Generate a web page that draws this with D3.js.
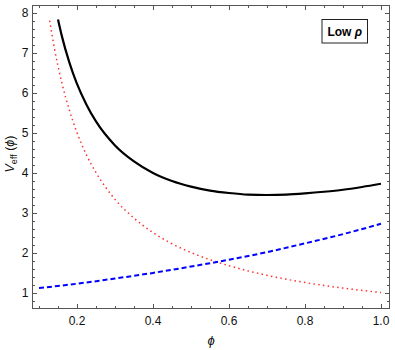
<!DOCTYPE html>
<html><head><meta charset="utf-8">
<script src="https://cdn.jsdelivr.net/npm/d3@7"></script>
<style>body{margin:0;background:#fff}svg{display:block}text{font-family:"Liberation Sans",Arial,sans-serif}</style>
</head><body><svg id="c" width="395" height="350"></svg>
<script>
// data
const phiRed = [0.128,0.14,0.16,0.18,0.2,0.225,0.25,0.3,0.35,0.4,0.45,0.5,0.55,0.6,0.7,0.8,0.9,1.0];
const vRed   = [7.80,7.14,6.25,5.56,5.00,4.44,4.00,3.33,2.86,2.50,2.22,2.00,1.82,1.67,1.43,1.25,1.11,1.00];
const phiBlue = [0.1,0.2,0.3,0.4,0.5,0.6,0.7,0.8,0.9,1.0];
const vBlue   = [1.11,1.22,1.35,1.49,1.65,1.82,2.01,2.23,2.46,2.72];
const phiBlack = [0.15,0.16,0.18,0.2,0.225,0.25,0.3,0.35,0.4,0.45,0.5,0.55,0.6,0.65,0.7,0.75,0.8,0.85,0.9,0.95,1.0];
const vBlack   = [7.83,7.42,6.75,6.22,5.70,5.28,4.68,4.28,3.99,3.79,3.65,3.55,3.49,3.45,3.44,3.45,3.48,3.52,3.57,3.64,3.72];
const xTicks = [0.2,0.4,0.6,0.8,1.0];
const yTicks = [1,2,3,4,5,6,7,8];
const legendLabel = "Low";

const svg = d3.select("#c");
const L=32.5,R=389.5,T=5.5,B=308.5;
const x = d3.scaleLinear().domain([0.0829,1.0224]).range([L,R]);
const y = d3.scaleLinear().domain([0.6,8.18]).range([B,T]);
const frameCol="#555";

// ticks
const g = svg.append("g");
const xMinor = d3.range(0.1,1.0001,0.05).map(v=>+v.toFixed(2));
const yMinor = d3.range(0.8,8.1,0.2).map(v=>+v.toFixed(1));
function tick(x1,y1,x2,y2){g.append("line").attr("x1",x1).attr("y1",y1).attr("x2",x2).attr("y2",y2).attr("stroke",frameCol).attr("stroke-width",1);}
xMinor.forEach(v=>{const major=xTicks.some(t=>Math.abs(t-v)<1e-6);const len=major?4.5:2.5;const px=Math.round(x(v))+0.5;
  tick(px,B,px,B-len);tick(px,T,px,T+len);});
yMinor.forEach(v=>{const major=yTicks.some(t=>Math.abs(t-v)<1e-6);const len=major?4.5:2.5;const py=Math.round(y(v))+0.5;
  tick(L,py,L+len,py);tick(R,py,R-len,py);});

// frame
svg.append("rect").attr("x",L).attr("y",T).attr("width",R-L).attr("height",B-T).attr("fill","none").attr("stroke",frameCol).attr("stroke-width",1);

// tick labels
xTicks.forEach(v=>svg.append("text").attr("x",x(v)).attr("y",B+16).attr("text-anchor","middle").attr("font-size",12).attr("fill","#111").text(d3.format(".1f")(v)));
yTicks.forEach(v=>svg.append("text").attr("x",L-4).attr("y",y(v)+4.5).attr("text-anchor","end").attr("font-size",12).attr("fill","#111").text(v));

// axis labels
svg.append("text").attr("x",(L+R)/2).attr("y",B+36).attr("text-anchor","middle").attr("font-size",13).attr("font-style","italic").attr("fill","#111").text("ϕ");
const yl = svg.append("text").attr("transform",`translate(14,154) rotate(-90)`).attr("text-anchor","middle").attr("font-size",12.5).attr("fill","#111");
yl.append("tspan").attr("font-style","italic").text("V");
yl.append("tspan").attr("font-size",9).attr("dy",3).text("eff");
yl.append("tspan").attr("dy",-3).text(" (");
yl.append("tspan").attr("font-style","italic").text("ϕ");
yl.append("tspan").text(")");

// curves
const clip = svg.append("clipPath").attr("id","cp").append("rect").attr("x",L).attr("y",T).attr("width",R-L).attr("height",B-T);
const line = d3.line().x(d=>x(d[0])).y(d=>y(d[1])).curve(d3.curveMonotoneX);
const cg = svg.append("g").attr("clip-path","url(#cp)");
cg.append("path").attr("d",line(phiRed.map((p,i)=>[p,vRed[i]]))).attr("fill","none").attr("stroke","#ff3030").attr("stroke-width",1.5).attr("stroke-dasharray","1.5,3.3");
cg.append("path").attr("d",line(phiBlue.map((p,i)=>[p,vBlue[i]]))).attr("fill","none").attr("stroke","#0000ff").attr("stroke-width",2).attr("stroke-dasharray","5,3");
cg.append("path").attr("d",line(phiBlack.map((p,i)=>[p,vBlack[i]]))).attr("fill","none").attr("stroke","#000").attr("stroke-width",2.2);

// legend box
svg.append("rect").attr("x",322).attr("y",19.5).attr("width",45.5).attr("height",23.5).attr("fill","#fff").attr("stroke","#222").attr("stroke-width",1);
const lt = svg.append("text").attr("x",344.75).attr("y",35.5).attr("text-anchor","middle").attr("font-size",12).attr("font-weight","bold").attr("fill","#000");
lt.append("tspan").text(legendLabel+" ");
lt.append("tspan").attr("font-style","italic").text("ρ");
</script></body></html>
